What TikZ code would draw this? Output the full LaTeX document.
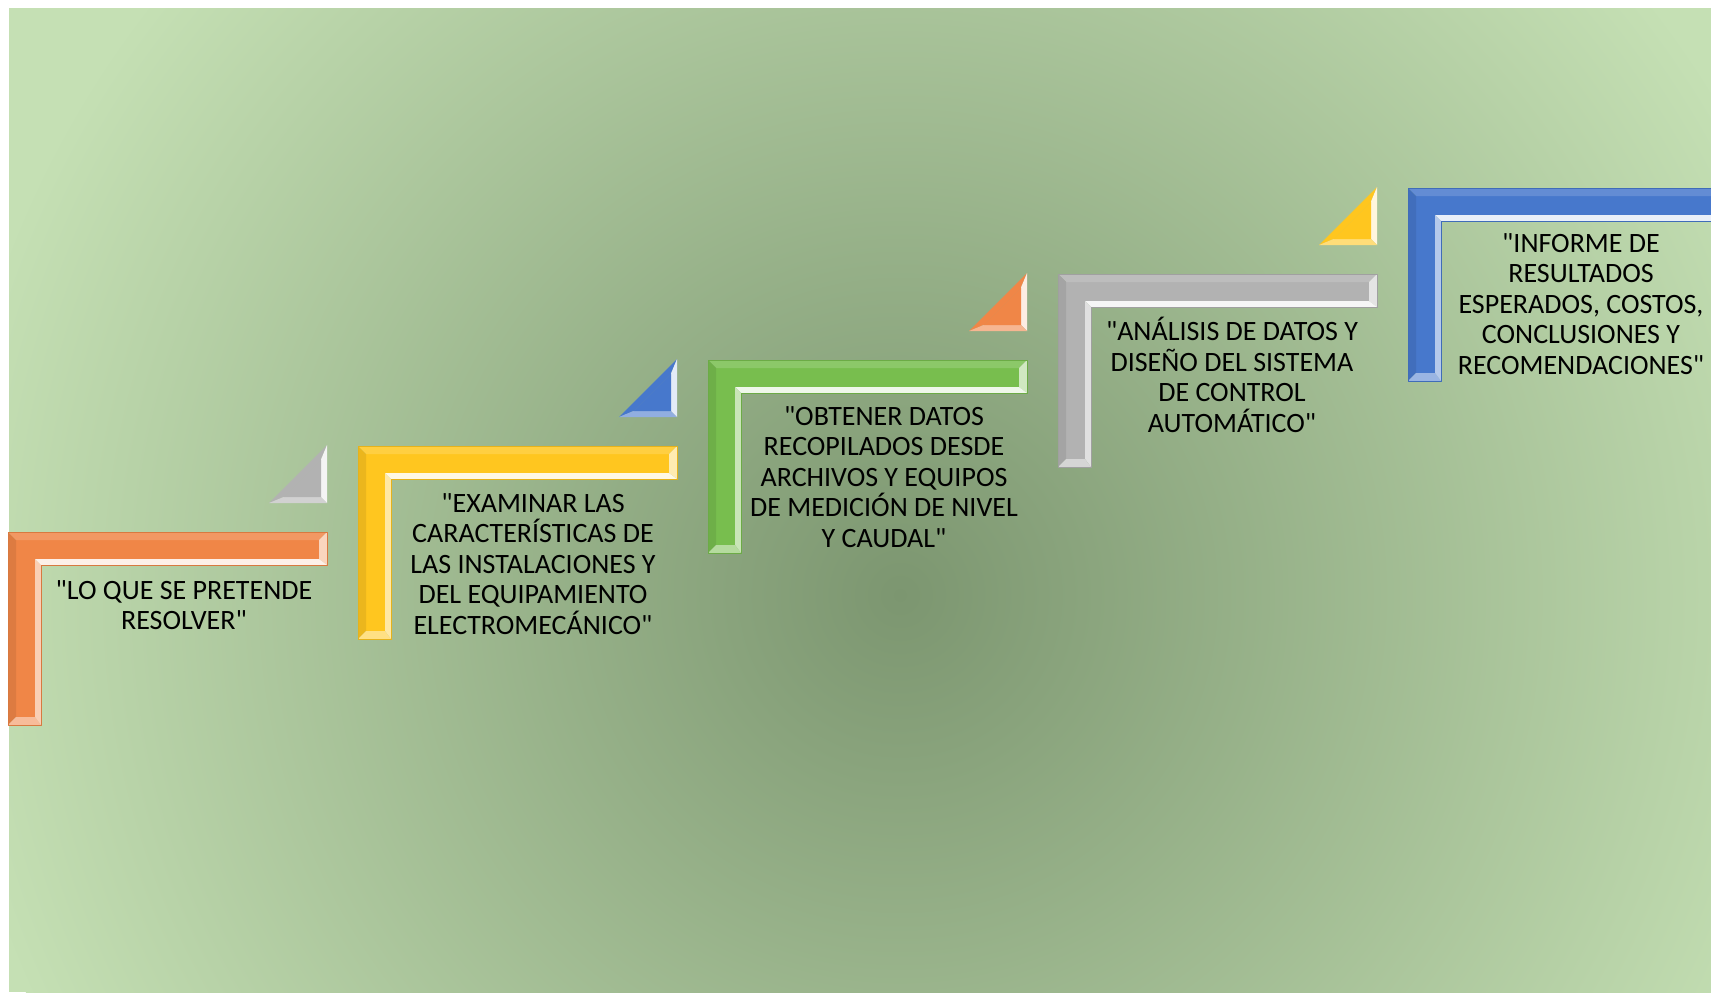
\documentclass[tikz,border=0pt]{standalone}
\usepackage{fontspec}
\setmainfont{Carlito}[Ligatures=TeXOff]
\usepackage{xcolor}
\usepackage{tikz}

\definecolor{bgLight}{HTML}{C5E0B4}
\definecolor{bgDark}{HTML}{7C9670}
\definecolor{stepOrange}{HTML}{F08647}
\definecolor{stepYellow}{HTML}{FFC61F}
\definecolor{stepGreen}{HTML}{78BE4E}
\definecolor{stepGrey}{HTML}{B2B2B2}
\definecolor{stepBlue}{HTML}{4778CC}

\begin{document}
\begin{tikzpicture}[x=0.5pt,y=-0.5pt]
    \tikzstyle{step text}=[align=center,inner sep=0,text=black,font=\fontsize{14}{15.25}\selectfont]
    \useasboundingbox (0,0) rectangle (1711,992);
    % background
    \begin{scope}
        \clip (9,8) rectangle (1711,992);
        \fill[bgLight] (9,8) rectangle (1711,992);
        \shade[inner color=bgDark,outer color=bgLight] (900,595) circle [radius=480pt];
    \end{scope}
    % steps and small triangles
    \foreach \i/\col/\tcol in {0/stepOrange/stepGrey,1/stepYellow/stepBlue,2/stepGreen/stepOrange,3/stepGrey/stepYellow,4/stepBlue/none}{
        \pgfmathsetmacro\X{8+350*\i}
        \pgfmathsetmacro\Y{532-86*\i}
        \path (\X,\Y) coordinate (p1) ++(319,0) coordinate (p2) ++(0,33) coordinate (p3)
              ++(-286,0) coordinate (p4) ++(0,160) coordinate (p5) ++(-33,0) coordinate (p6);
        \path (\X+8,\Y+8) coordinate (q1) ++(303,0) coordinate (q2) ++(0,19) coordinate (q3)
              ++(-284,0) coordinate (q4) ++(0,158) coordinate (q5) ++(-19,0) coordinate (q6);
        \fill[\col] (q1) -- (q2) -- (q3) -- (q4) -- (q5) -- (q6) -- cycle;
        \fill[\col!85!white] (p1) -- (p2) -- (q2) -- (q1) -- cycle;
        \fill[\col!92!black] (p1) -- (q1) -- (q6) -- (p6) -- cycle;
        \fill[\col!35!white] (p2) -- (p3) -- (q3) -- (q2) -- cycle;
        \fill[\col!12!white] (p3) -- (p4) -- (q4) -- (q3) -- cycle;
        \fill[\col!40!white] (p4) -- (p5) -- (q5) -- (q4) -- cycle;
        \fill[\col!55!white] (p5) -- (p6) -- (q6) -- (q5) -- cycle;
        \draw[\col!90!black,line width=0.4pt,line join=round] (p1) -- (p2) -- (p3) -- (p4) -- (p5) -- (p6) -- cycle;
        \ifnum\i<4
            \path (\X+319,\Y-87) coordinate (t1) ++(0,58) coordinate (t2) ++(-58,0) coordinate (t3);
            \path (\X+313,\Y-72.5) coordinate (u1) ++(0,37.5) coordinate (u2) ++(-37.5,0) coordinate (u3);
            \fill[\tcol] (t1) -- (u1) -- (u3) -- (t3) -- cycle;
            \fill[\tcol!15!white] (t1) -- (t2) -- (u2) -- (u1) -- cycle;
            \fill[\tcol!60!white] (t2) -- (t3) -- (u3) -- (u2) -- cycle;
            \fill[\tcol] (u1) -- (u2) -- (u3) -- cycle;
        \fi
    }
    % texts
    \node(resolver)[step text] at (184,605) {"LO QUE SE PRETENDE\\RESOLVER"};
    \node(examinar)[step text] at (533,564) {"EXAMINAR LAS\\CARACTERÍSTICAS DE\\LAS INSTALACIONES Y\\DEL EQUIPAMIENTO\\ELECTROMECÁNICO"};
    \node(obtener)[step text] at (884,477) {"OBTENER DATOS\\RECOPILADOS DESDE\\ARCHIVOS Y EQUIPOS\\DE MEDICIÓN DE NIVEL\\Y CAUDAL"};
    \node(analisis)[step text] at (1232,375) {"ANÁLISIS DE DATOS Y\\DISEÑO DEL SISTEMA\\DE CONTROL\\AUTOMÁTICO"};
    \node(informe)[step text] at (1581,304) {"INFORME DE\\RESULTADOS\\ESPERADOS, COSTOS,\\CONCLUSIONES Y\\RECOMENDACIONES"};
\end{tikzpicture}
\end{document}
